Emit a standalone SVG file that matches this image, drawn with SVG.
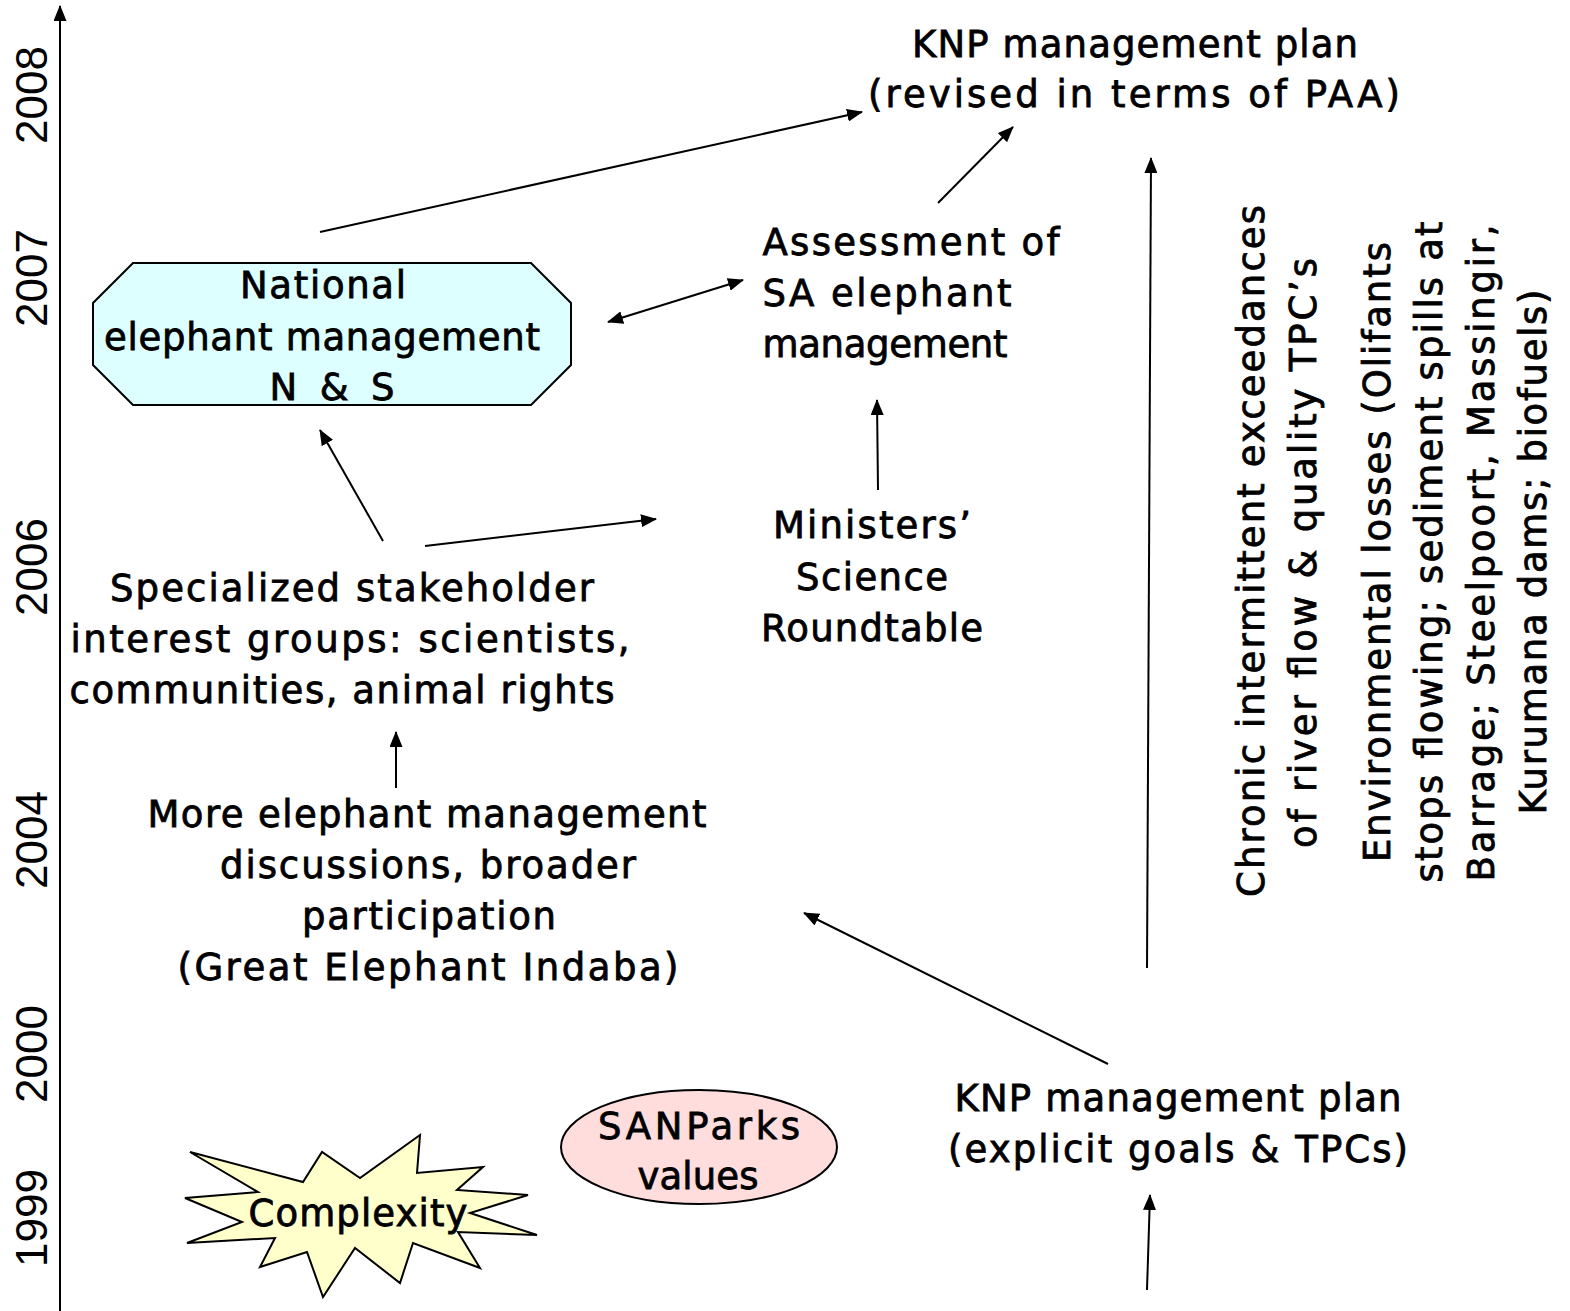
<svg xmlns="http://www.w3.org/2000/svg" width="1570" height="1311" viewBox="0 0 1570 1311">
<style>
.t{font-family:"DejaVu Sans","Verdana",sans-serif;font-size:37px;fill:#000;stroke:#000;stroke-width:0.8;text-anchor:middle}
.y{font-family:"Liberation Sans",Arial,sans-serif;font-size:44px;fill:#000;text-anchor:middle}
.c{stroke:#000;stroke-width:2;fill:none}
.s{stroke:#000;stroke-width:2}
</style>
<defs>
<marker id="ah" viewBox="0 0 16 13" refX="15" refY="6.5" markerWidth="16" markerHeight="13" markerUnits="userSpaceOnUse" orient="auto-start-reverse">
<path d="M0,0 L16,6.5 L0,13 z" fill="#000"/>
</marker>
</defs>
<rect width="1570" height="1311" fill="#fff"/>

<g id="axis">
<line x1="60" y1="1311" x2="60" y2="6" class="c" marker-end="url(#ah)"/>
<text class="y" transform="translate(47,95) rotate(-90)">2008</text>
<text class="y" transform="translate(47,278) rotate(-90)">2007</text>
<text class="y" transform="translate(47,567) rotate(-90)">2006</text>
<text class="y" transform="translate(47,840) rotate(-90)">2004</text>
<text class="y" transform="translate(47,1054) rotate(-90)">2000</text>
<text class="y" transform="translate(47,1218) rotate(-90)">1999</text>
</g>

<g id="connectors">
<line x1="320" y1="232" x2="862" y2="112" class="c" marker-end="url(#ah)"/>
<line x1="938" y1="203" x2="1013" y2="127" class="c" marker-end="url(#ah)"/>
<line x1="1147" y1="968" x2="1151" y2="158" class="c" marker-end="url(#ah)"/>
<line x1="608" y1="322" x2="743" y2="280" class="c" marker-start="url(#ah)" marker-end="url(#ah)"/>
<line x1="878" y1="490" x2="877" y2="400" class="c" marker-end="url(#ah)"/>
<line x1="383" y1="541" x2="320" y2="430" class="c" marker-end="url(#ah)"/>
<line x1="425" y1="546" x2="656" y2="519" class="c" marker-end="url(#ah)"/>
<line x1="396" y1="788" x2="396" y2="732" class="c" marker-end="url(#ah)"/>
<line x1="1108" y1="1064" x2="804" y2="913" class="c" marker-end="url(#ah)"/>
<line x1="1147" y1="1290" x2="1150" y2="1195" class="c" marker-end="url(#ah)"/>
</g>

<g id="knp-revised">
<text class="t" x="1135" y="57" textLength="446" lengthAdjust="spacing">KNP management plan</text>
<text class="t" x="1134" y="107" textLength="532" lengthAdjust="spacing">(revised in terms of PAA)</text>
</g>

<g id="assessment">
<text class="t" x="911" y="255" textLength="297" lengthAdjust="spacing">Assessment of</text>
<text class="t" x="887" y="306" textLength="249" lengthAdjust="spacing">SA elephant</text>
<text class="t" x="885" y="357" textLength="245" lengthAdjust="spacing">management</text>
</g>

<g id="national">
<polygon points="133,263 531,263 571,303 571,365 531,405 133,405 93,365 93,303" fill="#DDFFFF" class="s"/>
<text class="t" x="323" y="298" textLength="166" lengthAdjust="spacing">National</text>
<text class="t" x="322" y="350" textLength="436" lengthAdjust="spacing">elephant management</text>
<text class="t" x="332" y="400" textLength="125" lengthAdjust="spacing">N &amp; S</text>
</g>

<g id="ministers">
<text class="t" x="872" y="538" textLength="198" lengthAdjust="spacing">Ministers’</text>
<text class="t" x="872" y="590" textLength="152" lengthAdjust="spacing">Science</text>
<text class="t" x="872" y="641" textLength="222" lengthAdjust="spacing">Roundtable</text>
</g>

<g id="stakeholders">
<text class="t" x="352" y="601" textLength="484" lengthAdjust="spacing">Specialized stakeholder</text>
<text class="t" x="350" y="652" textLength="559" lengthAdjust="spacing">interest groups: scientists,</text>
<text class="t" x="342" y="703" textLength="545" lengthAdjust="spacing">communities, animal rights</text>
</g>

<g id="more-discussions">
<text class="t" x="427" y="827" textLength="559" lengthAdjust="spacing">More elephant management</text>
<text class="t" x="428" y="878" textLength="416" lengthAdjust="spacing">discussions, broader</text>
<text class="t" x="429" y="929" textLength="254" lengthAdjust="spacing">participation</text>
<text class="t" x="428" y="980" textLength="501" lengthAdjust="spacing">(Great Elephant Indaba)</text>
</g>

<g id="knp-explicit">
<text class="t" x="1178" y="1111" textLength="447" lengthAdjust="spacing">KNP management plan</text>
<text class="t" x="1178" y="1162" textLength="460" lengthAdjust="spacing">(explicit goals &amp; TPCs)</text>
</g>

<g id="sanparks">
<ellipse cx="699" cy="1147" rx="138" ry="57" fill="#FFDDDD" class="s"/>
<text class="t" x="699" y="1139" textLength="202" lengthAdjust="spacing">SANParks</text>
<text class="t" x="698" y="1189" textLength="121" lengthAdjust="spacing">values</text>
</g>

<g id="complexity">
<polygon points="190,1152 303,1182 322,1152 360,1178 420,1135 417,1173 483,1167 457,1190 528,1195 470,1213 537,1235 458,1232 480,1268 413,1243 400,1283 355,1248 323,1297 307,1252 260,1267 275,1238 187,1243 242,1222 185,1198 258,1192" fill="#FFFFCC" class="s"/>
<text class="t" x="358" y="1226" textLength="219" lengthAdjust="spacing">Complexity</text>
</g>

<g id="water-text">
<text class="t" transform="translate(1264,551) rotate(-90)" textLength="692" lengthAdjust="spacing">Chronic intermittent exceedances</text>
<text class="t" transform="translate(1316,553) rotate(-90)" textLength="590" lengthAdjust="spacing">of river flow &amp; quality TPC’s</text>
<text class="t" transform="translate(1390,552) rotate(-90)" textLength="620" lengthAdjust="spacing">Environmental losses (Olifants</text>
<text class="t" transform="translate(1442,552) rotate(-90)" textLength="661" lengthAdjust="spacing">stops flowing; sediment spills at</text>
<text class="t" transform="translate(1494,553) rotate(-90)" textLength="657" lengthAdjust="spacing">Barrage; Steelpoort, Massingir,</text>
<text class="t" transform="translate(1546,552) rotate(-90)" textLength="525" lengthAdjust="spacing">Kurumana dams; biofuels)</text>
</g>
</svg>
